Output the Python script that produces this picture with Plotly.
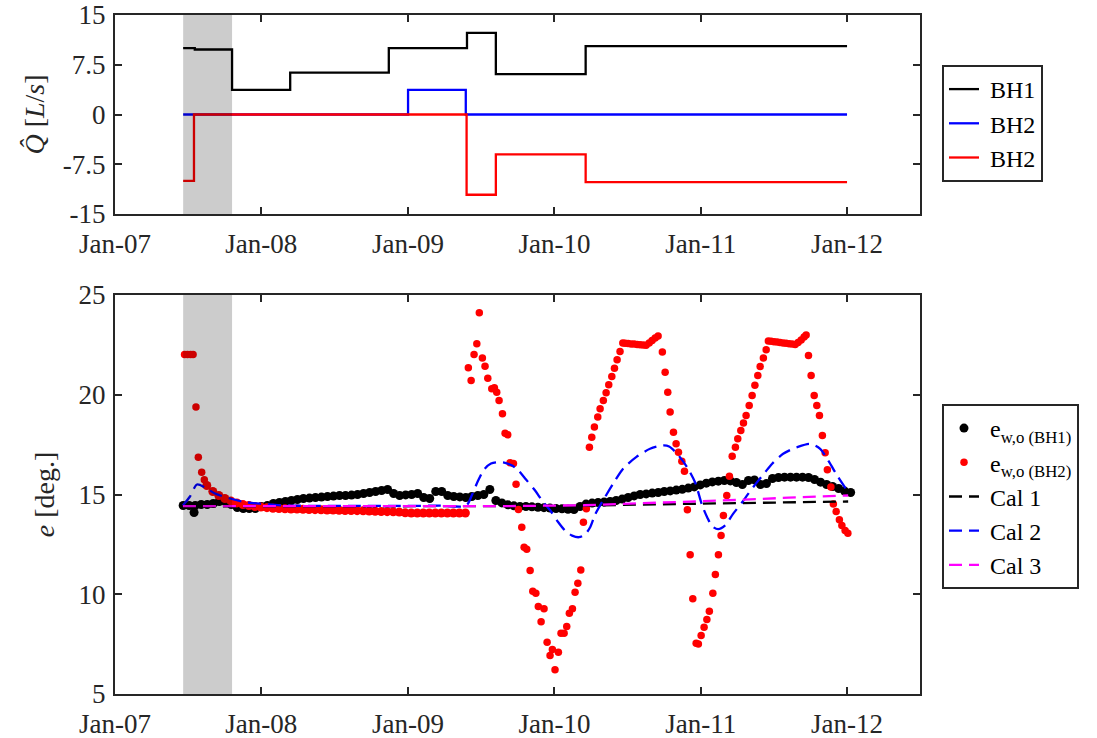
import numpy as np
import pandas as pd
import plotly.graph_objects as go

FONT = "Liberation Serif, Times New Roman, serif"
AXC = "#262626"

# ---------------- tick labels ----------------
x_tick_dates = ["2007-01-01", "2008-01-01", "2009-01-01", "2010-01-01", "2011-01-01", "2012-01-01"]
x_tick_text = ["Jan-07", "Jan-08", "Jan-09", "Jan-10", "Jan-11", "Jan-12"]
q_tick_vals = [-15, -7.5, 0, 7.5, 15]
q_tick_text = ["-15", "-7.5", "0", "7.5", "15"]
e_tick_vals = [5, 10, 15, 20, 25]
e_tick_text = ["5", "10", "15", "20", "25"]

# shaded start-up period
shade_start, shade_end = "2007-06-20", "2007-10-20"

# ---------------- pumping rates (step series) ----------------
bh1_q_dates = ["2007-06-20", "2007-07-19", "2007-10-20", "2008-03-13", "2008-11-14",
               "2009-05-28", "2009-08-08", "2010-03-20", "2012-01-01"]
bh1_q = [10.0, 9.8, 3.7, 6.3, 10.0, 12.3, 6.1, 10.3, 10.3]

bh2_q_dates = ["2007-06-20", "2009-01-01", "2009-05-25", "2012-01-01"]
bh2_q = [0.0, 3.7, 0.0, 0.0]

bh3_q_dates = ["2007-06-20", "2007-07-17", "2009-05-27", "2009-08-08", "2010-03-20", "2012-01-01"]
bh3_q = [-10.0, 0.0, -12.1, -6.0, -10.2, -10.2]

# ---------------- e_w,o (BH1): samples every 15 days from 2007-06-20 ----------------
bh1_e_start = "2007-06-20"
bh1_e = [14.45, 14.45, 14.45, 14.5, 14.5, 14.55, 14.65, 14.65, 14.5, 14.35,
         14.3, 14.3, 14.3, 14.4, 14.45, 14.55, 14.6, 14.65, 14.7, 14.75,
         14.8, 14.82, 14.85, 14.87, 14.9, 14.92, 14.95, 14.95, 14.97, 15.0,
         15.05, 15.1, 15.15, 15.2, 15.25, 15.05, 14.95, 14.98, 15.0, 15.05,
         14.85, 14.8, 15.15, 15.15, 14.95, 14.9, 14.88, 14.85, 14.9, 14.95,
         15.0, 15.25, 14.7, 14.58, 14.48, 14.43, 14.4, 14.4, 14.38, 14.36,
         14.34, 14.32, 14.3, 14.28, 14.26, 14.25, 14.4, 14.52, 14.57, 14.6,
         14.62, 14.65, 14.7, 14.77, 14.85, 14.93, 15.0, 15.03, 15.07, 15.1,
         15.15, 15.18, 15.22, 15.26, 15.32, 15.38, 15.48, 15.57, 15.63, 15.67,
         15.7, 15.68, 15.6, 15.5, 15.7, 15.73, 15.5, 15.55, 15.8, 15.85,
         15.87, 15.87, 15.87, 15.87, 15.85, 15.75, 15.62, 15.5, 15.4, 15.3,
         15.17, 15.1]
bh1_e_extra_year = [2007.540]
bh1_e_extra = [14.1]

# ---------------- e_w,o (BH2) ----------------
# start-up readings (decimal years)
bh2_onset_year = [2007.475, 2007.495, 2007.516, 2007.533, 2007.553, 2007.569, 2007.592, 2007.610]
bh2_onset = [22.02, 22.02, 22.02, 22.02, 19.38, 16.87, 16.12, 15.74]

# quiet period, samples every 15 days from 2007-08-18
bh2_quiet_start = "2007-08-18"
bh2_quiet = [15.45, 15.15, 14.95, 14.8, 14.68, 14.58, 14.5, 14.45, 14.4, 14.37,
             14.34, 14.31, 14.3, 14.28, 14.27, 14.27, 14.26, 14.25, 14.24, 14.23,
             14.22, 14.22, 14.21, 14.2, 14.2, 14.19, 14.18, 14.17, 14.16, 14.15,
             14.14, 14.13, 14.12, 14.08, 14.07, 14.07, 14.07, 14.07, 14.07, 14.07,
             14.07, 14.07, 14.07, 14.07]

# cycling period (decimal years)
bh2_cycle_year = [
    2009.413, 2009.432, 2009.452, 2009.471, 2009.488, 2009.509, 2009.527, 2009.546, 2009.573, 2009.591,
    2009.607, 2009.623, 2009.646, 2009.664, 2009.682, 2009.698, 2009.721, 2009.739, 2009.755, 2009.778,
    2009.794, 2009.812, 2009.835, 2009.853, 2009.874, 2009.891, 2009.910, 2009.930, 2009.951, 2009.971,
    2009.987, 2010.005, 2010.028, 2010.046, 2010.067, 2010.085, 2010.103, 2010.124, 2010.142, 2010.161,
    2010.181, 2010.199, 2010.219, 2010.240, 2010.256, 2010.274, 2010.297, 2010.313, 2010.335, 2010.354,
    2010.372, 2010.393, 2010.411, 2010.429, 2010.449, 2010.468, 2010.484, 2010.504, 2010.525, 2010.545,
    2010.566, 2010.586, 2010.607, 2010.627, 2010.648, 2010.668, 2010.689, 2010.709, 2010.738, 2010.757,
    2010.775, 2010.791, 2010.814, 2010.832, 2010.848, 2010.871, 2010.889, 2010.909, 2010.928, 2010.946,
    2010.969, 2010.984, 2011.003, 2011.023, 2011.042, 2011.059, 2011.083, 2011.100, 2011.121, 2011.139,
    2011.155, 2011.178, 2011.196, 2011.215, 2011.237, 2011.253, 2011.274, 2011.292, 2011.310, 2011.331,
    2011.351, 2011.370, 2011.390, 2011.406, 2011.428, 2011.447, 2011.462, 2011.481, 2011.501, 2011.522,
    2011.542, 2011.563, 2011.583, 2011.604, 2011.624, 2011.645, 2011.665, 2011.686, 2011.706, 2011.720,
    2011.736, 2011.754, 2011.775, 2011.793, 2011.811, 2011.831, 2011.850, 2011.865, 2011.889, 2011.906,
    2011.925, 2011.947, 2011.964, 2011.986, 2012.005]
bh2_cycle = [
    21.35, 20.72, 22.02, 22.56, 24.11, 21.84, 21.43, 20.83, 20.30, 20.35,
    20.13, 19.71, 19.05, 18.07, 17.99, 16.59, 16.55, 15.52, 14.25, 13.36,
    12.36, 12.26, 11.19, 10.15, 10.05, 9.38, 8.62, 9.27, 7.59, 6.93,
    7.23, 6.22, 7.09, 8.04, 8.04, 8.38, 9.05, 9.27, 10.10, 10.55,
    11.22, 13.61, 14.28, 17.37, 17.87, 18.38, 18.88, 19.30, 19.71, 20.10,
    20.50, 20.92, 21.33, 21.75, 22.17, 22.60, 22.58, 22.57, 22.55, 22.54,
    22.52, 22.51, 22.49, 22.48, 22.60, 22.72, 22.84, 22.95, 22.14, 21.13,
    20.13, 19.13, 18.12, 17.54, 17.12, 16.67, 16.17, 14.23, 11.98, 9.77,
    7.54, 7.51, 7.93, 8.35, 8.73, 9.15, 10.05, 10.99, 11.98, 12.94,
    13.95, 14.95, 15.92, 16.92, 17.37, 17.79, 18.21, 18.58, 18.96, 19.46,
    19.96, 20.47, 20.97, 21.42, 21.84, 22.26, 22.69, 22.68, 22.66, 22.64,
    22.62, 22.60, 22.58, 22.56, 22.54, 22.52, 22.62, 22.75, 22.90, 23.00,
    21.97, 20.97, 19.96, 19.46, 18.96, 17.96, 17.09, 16.24, 15.37, 14.53,
    14.15, 13.73, 13.45, 13.19, 13.06]

# ---------------- calibrated models ----------------
cal1_year = [2007.464, 2010.000, 2010.900, 2011.400, 2012.007]
cal1 = [14.40, 14.42, 14.53, 14.60, 14.65]

cal2_year = [2007.464, 2007.512, 2007.560, 2007.615, 2007.683, 2007.786, 2007.888, 2008.004, 2008.161,
             2008.400, 2008.674, 2008.947, 2009.220, 2009.398, 2009.439, 2009.480, 2009.520, 2009.568,
             2009.616, 2009.664, 2009.712, 2009.753, 2009.807, 2009.869, 2009.924, 2009.978, 2010.026,
             2010.074, 2010.122, 2010.169, 2010.210, 2010.245, 2010.279, 2010.333, 2010.402, 2010.470,
             2010.559, 2010.654, 2010.743, 2010.784, 2010.839, 2010.907, 2010.962, 2011.010, 2011.044,
             2011.078, 2011.119, 2011.167, 2011.221, 2011.283, 2011.324, 2011.385, 2011.440, 2011.488,
             2011.563, 2011.658, 2011.747, 2011.816, 2011.870, 2011.939, 2012.007]
cal2 = [14.45, 14.90, 15.50, 15.35, 15.05, 14.80, 14.62, 14.53, 14.45,
        14.43, 14.43, 14.43, 14.44, 14.45, 15.00, 15.70, 16.25, 16.55,
        16.62, 16.59, 16.45, 16.22, 15.75, 15.20, 14.62, 14.15, 13.62,
        13.19, 12.94, 12.86, 13.00, 13.36, 14.00, 14.70, 15.54, 16.29,
        16.87, 17.29, 17.46, 17.41, 17.04, 16.37, 15.60, 14.45, 13.86,
        13.41, 13.26, 13.45, 14.03, 14.61, 15.03, 15.62, 16.12, 16.54,
        17.04, 17.37, 17.54, 17.29, 16.71, 15.87, 15.12]

cal3_year = [2007.464, 2009.700, 2010.200, 2010.900, 2011.300, 2011.600, 2012.007]
cal3 = [14.42, 14.42, 14.46, 14.62, 14.74, 14.84, 14.95]


def years_to_dates(yrs):
    yrs = np.asarray(yrs, dtype=float)
    return pd.Timestamp("2007-01-01") + pd.to_timedelta((yrs - 2007.0) * 365.25, unit="D")


bh1_e_dates = list(pd.date_range(bh1_e_start, periods=len(bh1_e), freq="15D")) + \
    list(years_to_dates(bh1_e_extra_year))
bh1_e_all = bh1_e + bh1_e_extra

bh2_quiet_dates = pd.date_range(bh2_quiet_start, periods=len(bh2_quiet), freq="15D")
bh2_sparse_dates = list(years_to_dates(bh2_onset_year)) + list(years_to_dates(bh2_cycle_year))
bh2_sparse = bh2_onset + bh2_cycle

NB = "\u00a0"
fig = go.Figure()

# ---- top panel: pumping rates ----
fig.add_trace(go.Scatter(x=bh1_q_dates, y=bh1_q, mode="lines", line=dict(color="black", width=2.3, shape="hv"),
                         name=NB + "BH1", xaxis="x", yaxis="y", legend="legend"))
fig.add_trace(go.Scatter(x=bh2_q_dates, y=bh2_q, mode="lines", line=dict(color="#0000ff", width=2.3, shape="hv"),
                         name=NB + "BH2", xaxis="x", yaxis="y", legend="legend"))
fig.add_trace(go.Scatter(x=bh3_q_dates, y=bh3_q, mode="lines", line=dict(color="#ff0000", width=2.3, shape="hv"),
                         name=NB + "BH2", xaxis="x", yaxis="y", legend="legend"))

# ---- bottom panel: errors and calibrations ----
fig.add_trace(go.Scatter(x=bh1_e_dates, y=bh1_e_all, mode="markers",
                         marker=dict(color="black", size=9, line=dict(width=0)),
                         name=NB + "e<sub>w,o (BH1)</sub>", xaxis="x2", yaxis="y2", legend="legend2"))
fig.add_trace(go.Scatter(x=bh2_quiet_dates, y=bh2_quiet, mode="markers",
                         marker=dict(color="#ff0000", size=9, line=dict(width=0)),
                         legendgroup="bh2", showlegend=False, xaxis="x2", yaxis="y2", legend="legend2"))
fig.add_trace(go.Scatter(x=bh2_sparse_dates, y=bh2_sparse, mode="markers",
                         marker=dict(color="#ff0000", size=7.5, line=dict(width=0)), legendgroup="bh2",
                         name=NB + "e<sub>w,o (BH2)</sub>", xaxis="x2", yaxis="y2", legend="legend2"))
fig.add_trace(go.Scatter(x=years_to_dates(cal1_year), y=cal1, mode="lines",
                         line=dict(color="black", width=2.3, dash="13px,7px"),
                         name=NB + "Cal 1", xaxis="x2", yaxis="y2", legend="legend2"))
fig.add_trace(go.Scatter(x=years_to_dates(cal2_year), y=cal2, mode="lines",
                         line=dict(color="#0000ff", width=2.3, dash="13px,7px", shape="spline", smoothing=0.8),
                         name=NB + "Cal 2", xaxis="x2", yaxis="y2", legend="legend2"))
fig.add_trace(go.Scatter(x=years_to_dates(cal3_year), y=cal3, mode="lines",
                         line=dict(color="#ff00ff", width=2.3, dash="13px,7px"),
                         name=NB + "Cal 3", xaxis="x2", yaxis="y2", legend="legend2"))

W, H = 1097, 738
xdom = [115 / W, 920 / W]
top_dom = [(H - 214) / H, (H - 15) / H]
bot_dom = [(H - 694) / H, (H - 295) / H]

common_x = dict(type="date", range=["2007-01-01", "2012-07-01"], tickmode="array",
                tickvals=x_tick_dates, ticktext=x_tick_text, ticks="inside", ticklen=7, tickwidth=2,
                tickcolor=AXC, showline=True, linecolor=AXC, linewidth=2, mirror="ticks",
                showgrid=False, zeroline=False, tickfont=dict(family=FONT, size=27, color=AXC),
                domain=xdom, automargin=False, ticklabelstandoff=5)
common_y = dict(ticks="inside", ticklen=7, tickwidth=2, tickcolor=AXC, showline=True, linecolor=AXC,
                linewidth=2, mirror="ticks", showgrid=False, zeroline=False, tickmode="array",
                tickfont=dict(family=FONT, size=27, color=AXC), automargin=False, ticklabelstandoff=2)

legend_style = dict(bgcolor="white", bordercolor=AXC, borderwidth=2, xanchor="left", yanchor="top",
                    font=dict(family=FONT, size=24, color="black"), tracegroupgap=0, itemwidth=30)

fig.update_layout(
    width=W, height=H, margin=dict(l=0, r=0, t=0, b=0, autoexpand=False),
    paper_bgcolor="white", plot_bgcolor="white",
    font=dict(family=FONT, color="black"),
    xaxis=dict(common_x, anchor="y"),
    xaxis2=dict(common_x, anchor="y2"),
    yaxis=dict(common_y, domain=top_dom, anchor="x", range=[-15, 15], tickvals=q_tick_vals, ticktext=q_tick_text,
               title=dict(text="<i>Q̂</i> [<i>L</i>/<i>s</i>]", font=dict(family=FONT, size=28, color=AXC), standoff=10)),
    yaxis2=dict(common_y, domain=bot_dom, anchor="x2", range=[5, 25], tickvals=e_tick_vals, ticktext=e_tick_text,
                title=dict(text="<i>e</i> [deg.]", font=dict(family=FONT, size=28, color=AXC), standoff=16)),
    legend=dict(legend_style, x=942 / W, y=1 - 65 / H),
    legend2=dict(legend_style, x=942 / W, y=1 - 404 / H),
    showlegend=True,
    shapes=[
        dict(type="rect", xref="x", yref="y domain", x0=shade_start, x1=shade_end, y0=0, y1=1,
             fillcolor="rgba(0,0,0,0.2)", line=dict(width=0), layer="above"),
        dict(type="rect", xref="x2", yref="y2 domain", x0=shade_start, x1=shade_end, y0=0, y1=1,
             fillcolor="rgba(0,0,0,0.2)", line=dict(width=0), layer="above"),
    ],
)

fig.write_html("out.html")
